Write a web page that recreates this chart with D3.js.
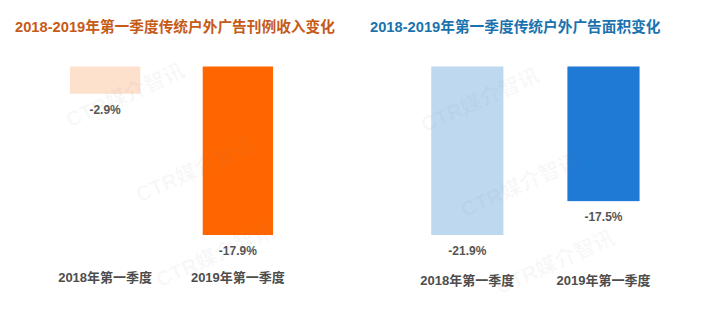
<!DOCTYPE html>
<html>
<head>
<meta charset="utf-8">
<script src="https://cdn.jsdelivr.net/npm/d3@7"></script>
<style>
  html, body { margin: 0; padding: 0; background: #fff; }
  svg { display: block; }
  text { font-family: "Liberation Sans", Arial, "Noto Sans CJK SC", sans-serif; font-weight: bold; }
</style>
</head>
<body>
<svg id="chart" width="710" height="330"></svg>
<script>
// Quarter labels shared by both panels
const categories = ["2018年第一季度", "2019年第一季度"];
// Q1 change in traditional outdoor ad revenue (%)
const revenueChange = [-2.9, -17.9];
// Q1 change in traditional outdoor ad area (%)
const areaChange = [-21.9, -17.5];

const titles = [
  "2018-2019年第一季度传统户外广告刊例收入变化",
  "2018-2019年第一季度传统户外广告面积变化"
];
const watermark = "CTR媒介智讯";

const svg = d3.select("#chart");
const pct = v => d3.format(".1f")(v).replace("\u2212", "-") + "%";

const panels = [
  {
    title: titles[0], values: revenueChange,
    titleColor: "#c65a17", colors: ["#fde1cd", "#ff6600"],
    titleX: 15, xRange: [36.75, 306.25], catY: 282,
    marks: [[125, 95], [195, 170], [215, 255]]
  },
  {
    title: titles[1], values: areaChange,
    titleColor: "#1a73ae", colors: ["#bed8f0", "#1f7ad6"],
    titleX: 370, xRange: [397.2, 673.6], catY: 285,
    marks: [[480, 100], [520, 185], [555, 262]]
  }
];

panels.forEach(p => {
  const g = svg.append("g");

  g.append("text")
    .attr("x", p.titleX).attr("y", 32)
    .attr("font-size", 14.7)
    .attr("fill", p.titleColor)
    .text(p.title);

  const x = d3.scaleBand()
    .domain(categories)
    .range(p.xRange)
    .paddingInner(0.47)
    .paddingOuter(0.25);

  const y = d3.scaleLinear()
    .domain([0, d3.min(p.values)])
    .range([66.5, 235]);

  const rows = categories.map((c, i) => ({ cat: c, v: p.values[i], color: p.colors[i] }));

  g.selectAll("rect.bar").data(rows).join("rect")
    .attr("class", "bar")
    .attr("x", d => x(d.cat))
    .attr("width", x.bandwidth())
    .attr("y", y(0))
    .attr("height", d => y(d.v) - y(0))
    .attr("fill", d => d.color);

  g.selectAll("text.val").data(rows).join("text")
    .attr("class", "val")
    .attr("x", d => x(d.cat) + x.bandwidth() / 2)
    .attr("y", d => y(d.v) + 20)
    .attr("text-anchor", "middle")
    .attr("font-size", 12)
    .attr("fill", "#555555")
    .text(d => pct(d.v));

  g.selectAll("text.cat").data(rows).join("text")
    .attr("class", "cat")
    .attr("x", d => x(d.cat) + x.bandwidth() / 2)
    .attr("y", p.catY)
    .attr("text-anchor", "middle")
    .attr("font-size", 13)
    .attr("fill", "#4d4d4d")
    .text(d => d.cat);

  // faint diagonal watermark stamps
  g.selectAll("text.wm").data(p.marks).join("text")
    .attr("class", "wm")
    .attr("transform", d => `translate(${d[0]},${d[1]}) rotate(-24)`)
    .attr("text-anchor", "middle")
    .attr("dy", "0.35em")
    .attr("font-size", 21)
    .attr("fill", "#808080")
    .attr("fill-opacity", 0.06)
    .text(watermark);
});
</script>
</body>
</html>
